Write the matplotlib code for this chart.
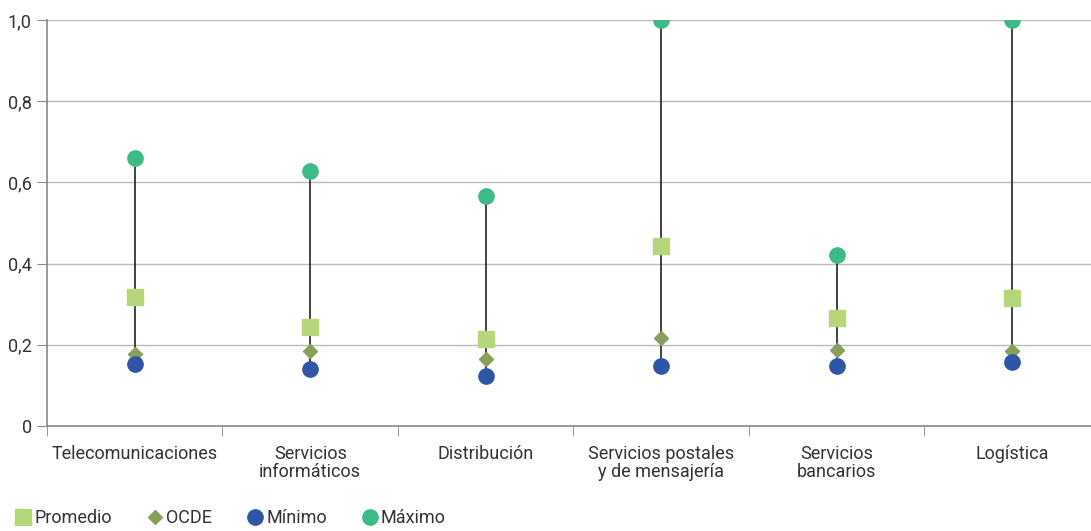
import matplotlib
matplotlib.use('Agg')
import matplotlib.pyplot as plt
from matplotlib.lines import Line2D
from matplotlib.ticker import FixedLocator, FuncFormatter

# datos
categorias = ['Telecomunicaciones', 'Servicios\ninformáticos', 'Distribución',
              'Servicios postales\ny de mensajería', 'Servicios\nbancarios', 'Logística']
promedio = [0.318, 0.244, 0.214, 0.443, 0.266, 0.315]
ocde = [0.177, 0.185, 0.165, 0.217, 0.187, 0.185]
minimo = [0.153, 0.140, 0.123, 0.148, 0.148, 0.158]
maximo = [0.660, 0.628, 0.567, 1.0, 0.421, 1.0]

c_prom = '#b5d77a'
c_ocde = '#88a05a'
c_min = '#2f56a6'
c_max = '#3dba88'
c_txt = '#333333'

plt.rcParams['font.family'] = ['Roboto', 'DejaVu Sans']
plt.rcParams['font.size'] = 13

fig = plt.figure(figsize=(10.91, 5.31), dpi=100)
ax = fig.add_axes([47 / 1091, 1 - 426 / 531, 1 - 47 / 1091, (426 - 20) / 531])

x = list(range(len(categorias)))
for i in x:
    ax.plot([i, i], [minimo[i], maximo[i]], color='#222222', lw=1.2, zorder=2)
ax.plot(x, promedio, 's', color=c_prom, ms=11.5, zorder=3, label='Promedio')
ax.plot(x, ocde, 'D', color=c_ocde, ms=7, zorder=4, label='OCDE')
ax.plot(x, minimo, 'o', color=c_min, ms=11, zorder=4, label='Mínimo')
ax.plot(x, maximo, 'o', color=c_max, ms=11, zorder=4, label='Máximo')

ax.set_ylim(0, 1.0)
ax.set_xlim(-0.5, 5.45)
ax.set_yticks([0, 0.2, 0.4, 0.6, 0.8, 1.0])
ax.yaxis.set_major_formatter(FuncFormatter(lambda v, p: '0' if v == 0 else ('%.1f' % v).replace('.', ',')))
ax.grid(axis='y', color='#bbbbbb', lw=1)
ax.set_axisbelow(True)

ax.set_xticks(x)
ax.set_xticklabels(categorias, linespacing=1.0)
ax.tick_params(axis='x', which='major', length=0, pad=14, colors=c_txt, labelsize=13)
ax.xaxis.set_minor_locator(FixedLocator([i - 0.5 for i in range(len(categorias) + 1)]))
ax.tick_params(axis='x', which='minor', length=7, color='#888888', direction='out')
ax.tick_params(axis='y', length=7, color='#888888', colors=c_txt, labelsize=13, pad=4)

for s in ['top', 'right']:
    ax.spines[s].set_visible(False)
for s in ['left', 'bottom']:
    ax.spines[s].set_color('#888888')
    ax.spines[s].set_linewidth(1.2)

handles = [
    Line2D([], [], marker='s', color=c_prom, ls='', ms=11),
    Line2D([], [], marker='D', color=c_ocde, ls='', ms=7),
    Line2D([], [], marker='o', color=c_min, ls='', ms=11),
    Line2D([], [], marker='o', color=c_max, ls='', ms=11),
]
fig.legend(handles, ['Promedio', 'OCDE', 'Mínimo', 'Máximo'], loc='lower left',
           bbox_to_anchor=(0.0, -0.024), ncol=4, frameon=False, handlelength=0.8,
           handletextpad=0.2, columnspacing=2.0, labelcolor=c_txt, fontsize=13)

fig.savefig('out.png', dpi=100)
